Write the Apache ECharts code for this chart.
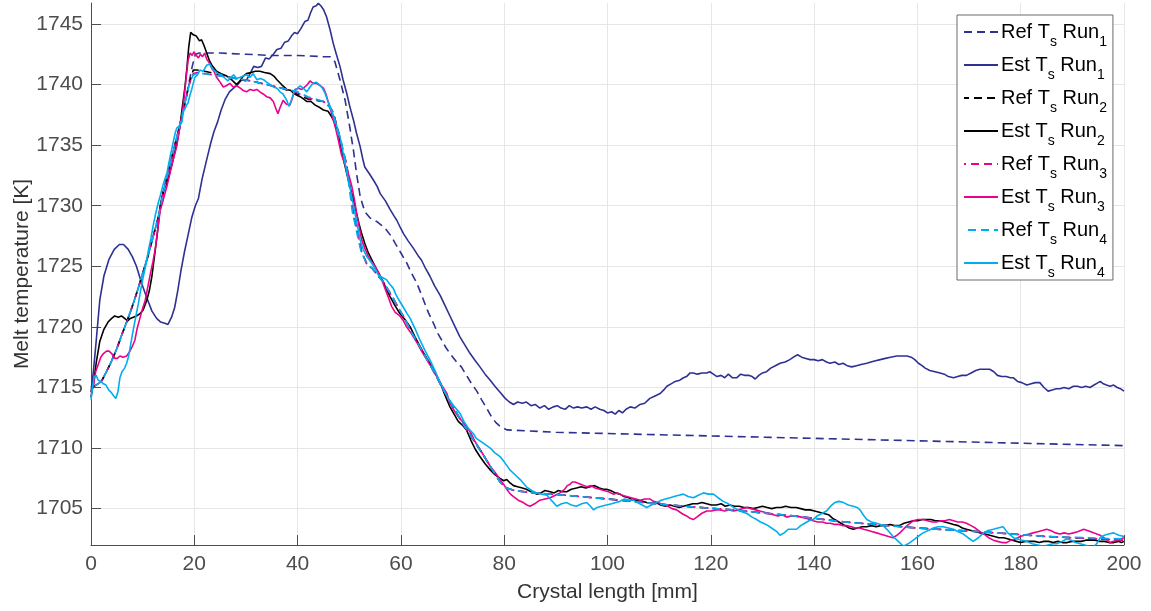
<!DOCTYPE html>
<html>
<head>
<meta charset="utf-8">
<script src="https://cdn.jsdelivr.net/npm/echarts@6/dist/echarts.min.js"></script>
<style>
  html, body { margin: 0; padding: 0; background: #fff; }
  #chart { width: 1151px; height: 611px; }
</style>
</head>
<body>
<div id="chart"></div>
<script>
// Axis ticks
const xTicks = [0, 20, 40, 60, 80, 100, 120, 140, 160, 180, 200];
const yTicks = [1705, 1710, 1715, 1720, 1725, 1730, 1735, 1740, 1745];

// Legend labels (T_s and Run index are set as subscripts)
const seriesNames = [
  'Ref Ts Run1', 'Est Ts Run1',
  'Ref Ts Run2', 'Est Ts Run2',
  'Ref Ts Run3', 'Est Ts Run3',
  'Ref Ts Run4', 'Est Ts Run4'
];

// [crystal length mm, melt temperature K]
const refRun1 = [[0,1715],[1,1715.2],[2,1715.5],[3,1716.3],[4,1717.2],[5,1718.2],[6,1719.4],[7,1720.5],[8,1721.7],[9,1723],[10,1724.4],[11,1725.8],[12,1727.4],[13,1729],[14,1731.1],[15,1732.9],[16,1734.6],[17,1736.3],[18,1738.1],[19,1740.2],[19.6,1741.5],[20.2,1742.5],[21,1742.6],[25,1742.6],[30,1742.5],[35,1742.4],[40,1742.4],[45,1742.3],[46.3,1742.3],[47.2,1741.9],[48.2,1740.4],[49.2,1738.7],[50.1,1736.5],[50.8,1734.6],[51.4,1732.7],[52.1,1730.8],[53,1729.5],[54,1729],[55.3,1728.7],[56.2,1728.4],[57.2,1728],[58.1,1727.5],[58.9,1726.9],[60,1726.1],[61.1,1725.3],[62.1,1724.4],[63.1,1723.6],[64.3,1722.3],[65.3,1721.2],[66.3,1720.3],[67.1,1719.5],[67.9,1718.9],[68.7,1718.3],[69.5,1717.8],[70.8,1717.1],[71.7,1716.7],[72.7,1716],[73.7,1715.3],[74.7,1714.7],[75.6,1714],[76.6,1713.3],[77.5,1712.6],[78.4,1712.1],[79.2,1711.8],[80.5,1711.5],[90,1711.3],[100,1711.2],[110,1711.1],[120,1711],[130,1710.9],[140,1710.8],[150,1710.7],[160,1710.6],[170,1710.5],[180,1710.4],[190,1710.3],[200,1710.2]];

const estRun1 = [[0,1714.6],[0.5,1716.5],[1,1718.8],[1.7,1722.2],[2.5,1724.2],[3.5,1725.6],[4.5,1726.4],[5.5,1726.8],[6.3,1726.8],[7.2,1726.4],[8,1725.8],[8.8,1725],[9.8,1723.6],[10.8,1722.4],[11.8,1721.3],[12.7,1720.7],[13.5,1720.4],[14.3,1720.3],[14.9,1720.2],[15.6,1720.8],[16.2,1721.6],[16.8,1723],[17.4,1724.6],[18.1,1726.2],[18.8,1727.6],[19.5,1729],[20.2,1730],[20.8,1730.6],[21.5,1732.2],[22.4,1733.8],[23.2,1735.2],[23.8,1736.1],[24.5,1736.9],[25.2,1737.9],[26,1738.8],[26.8,1739.4],[27.6,1739.7],[28.4,1740],[29.2,1740.4],[30,1740.3],[30.8,1740.9],[31.5,1741.5],[32.3,1741.4],[33,1741.5],[33.8,1742.2],[34.5,1742.1],[35.3,1742.5],[36,1742.9],[36.8,1743],[37.5,1743.5],[38.2,1743.6],[38.8,1744],[39.4,1744.3],[40,1744.2],[40.6,1744.6],[41.4,1745.2],[42,1745.3],[42.5,1745.9],[43,1746.4],[43.6,1746.5],[44,1746.7],[44.5,1746.5],[45,1746.2],[45.6,1745.6],[46.3,1744.5],[46.9,1743.4],[47.5,1742.5],[48.2,1741.5],[48.8,1740.4],[49.5,1739.3],[50.1,1738.2],[50.8,1737.1],[51.4,1736],[52.1,1734.9],[52.6,1733.9],[53,1733.2],[53.8,1732.7],[54.7,1732.1],[55.4,1731.6],[56,1731],[57,1730.4],[57.9,1729.7],[58.6,1729.2],[59.2,1728.8],[60,1728.1],[60.5,1727.7],[61.4,1727.1],[62.4,1726.5],[63.3,1725.9],[64,1725.5],[64.8,1724.8],[65.6,1724.2],[66.5,1723.4],[67.6,1722.6],[68.5,1721.8],[69.5,1720.9],[70.5,1720],[71.4,1719.2],[72.4,1718.5],[73.4,1717.8],[74.4,1717.2],[75.3,1716.7],[76.3,1716.1],[77.3,1715.6],[78.2,1715.1],[79.2,1714.6],[80.2,1714.1],[81,1713.8],[81.8,1713.6],[82.6,1713.8],[83.5,1713.7],[84.3,1713.8],[85.2,1713.5],[86,1713.6],[86.9,1713.3],[87.8,1713.5],[88.6,1713.2],[89.5,1713.4],[90.3,1713.5],[91,1713.3],[91.8,1713.2],[92.6,1713.5],[93.4,1713.3],[94.2,1713.4],[95,1713.3],[96,1713.4],[96.8,1713.2],[97.6,1713.4],[98.5,1713.2],[99.3,1713.1],[100,1712.9],[100.8,1713],[101.5,1712.8],[102.2,1713.1],[102.9,1712.9],[103.6,1713.2],[104.4,1713.4],[105.3,1713.3],[106.3,1713.6],[107.2,1713.7],[108.2,1714.1],[109.2,1714.3],[110.2,1714.5],[110.9,1714.8],[111.5,1715.1],[112.3,1715.3],[113.1,1715.5],[114,1715.6],[114.7,1715.8],[115.3,1715.9],[116,1716.2],[116.6,1716.2],[117.4,1716.1],[118.3,1716.2],[119.2,1716.2],[119.8,1716.3],[120.5,1716.1],[121.2,1715.9],[122,1716],[122.7,1715.8],[123.4,1716.1],[124.2,1715.8],[125,1715.8],[125.8,1716.1],[126.5,1716],[127.3,1716],[128,1715.9],[128.6,1715.7],[129.3,1716],[130,1716.2],[130.8,1716.3],[131.6,1716.6],[132.5,1716.8],[133.4,1717],[134.4,1717.1],[135.3,1717.3],[136,1717.5],[136.8,1717.7],[137.6,1717.5],[138.4,1717.4],[139.2,1717.3],[140,1717.3],[140.8,1717.2],[141.6,1717.3],[142.4,1717.1],[143.1,1717],[144,1717.1],[144.8,1716.9],[145.6,1717],[146.4,1716.8],[147.3,1716.7],[148.2,1716.8],[149.1,1716.9],[150.2,1717],[151,1717.1],[151.9,1717.2],[152.8,1717.3],[153.8,1717.4],[154.8,1717.5],[156,1717.6],[157,1717.6],[158,1717.6],[158.8,1717.5],[159.5,1717.3],[160.2,1717],[160.9,1716.8],[161.5,1716.6],[162.4,1716.4],[163.4,1716.3],[164.4,1716.2],[165.2,1716.1],[166,1715.9],[167,1715.8],[167.8,1715.9],[168.6,1716],[169.5,1716],[170.4,1716.2],[171.3,1716.4],[172.1,1716.5],[173,1716.5],[174,1716.5],[174.8,1716.3],[175.5,1716],[176.3,1715.9],[177.2,1715.9],[178,1715.8],[178.6,1715.8],[179.4,1715.5],[180.2,1715.4],[181.2,1715.2],[182,1715.3],[182.8,1715.4],[183.7,1715.4],[184.5,1715],[185.3,1714.7],[186.1,1714.8],[186.9,1714.9],[187.6,1714.9],[188.4,1715],[189.3,1714.9],[190.2,1715.1],[191,1715.1],[191.8,1715],[192.6,1715.1],[193.4,1715],[194.2,1715.2],[195,1715.4],[195.4,1715.5],[196,1715.3],[196.6,1715.2],[197.3,1715.1],[198,1715.2],[198.7,1715],[199.3,1714.9],[200,1714.7]];

const refRun2 = [[0,1715],[1,1715.2],[2,1715.5],[3,1716.3],[4,1717.2],[5,1718.2],[6,1719.4],[7,1720.5],[8,1721.7],[9,1723],[10,1724.4],[11,1725.8],[12,1727.4],[13,1729],[14,1731.1],[15,1732.9],[16,1734.6],[17,1736.3],[18,1738.1],[19,1740],[19.8,1741.2],[20.5,1741.2],[22,1741.1],[25,1740.8],[28,1740.5],[31,1740.3],[34,1740],[37,1739.7],[40,1739.2],[42,1738.8],[45,1738.6],[46,1738.3],[46.9,1737.7],[47.9,1736.1],[48.8,1734.5],[49.5,1733.4],[50.1,1731.6],[50.8,1729.3],[51.4,1728.2],[51.8,1727.4],[52.4,1726.2],[53.4,1725.2],[54.5,1724.8],[55.6,1724.2],[56.6,1723.7],[57.6,1723],[58.6,1722.3],[59.6,1721.5],[60.6,1720.8],[62,1719.6],[64,1718.1],[66,1716.6],[68,1715],[70,1713.5],[72,1712],[74,1710.7],[76,1709.4],[78,1708],[79.2,1707.2],[80.5,1706.7],[82,1706.5],[85.6,1706.3],[92,1706.1],[100,1705.8],[112,1705.3],[124,1704.9],[136,1704.4],[146,1703.9],[160,1703.4],[172,1703.1],[185,1702.7],[200,1702.4]];

const estRun2 = [[0,1714.2],[0.5,1715.4],[1,1717],[1.7,1718.8],[2.5,1719.8],[3.3,1720.4],[4,1720.7],[4.6,1720.9],[5.3,1720.8],[5.9,1720.9],[6.5,1720.7],[7.1,1720.5],[7.6,1720.7],[8.2,1720.8],[8.8,1720.9],[9.5,1721.1],[10.1,1721.4],[10.8,1722.2],[11.3,1723],[11.8,1724.2],[12.4,1726.2],[12.9,1727.9],[13.4,1730],[14,1731.2],[14.7,1731.9],[15.3,1732.8],[15.9,1733.8],[16.6,1735.1],[17.2,1736.5],[17.7,1738.2],[18.2,1739.8],[18.6,1741.5],[18.9,1743],[19.3,1744.3],[19.8,1744.1],[20.4,1744],[21,1743.6],[21.4,1743.7],[21.9,1743.2],[22.4,1742.6],[22.9,1742],[23.4,1741.6],[24.3,1741.1],[25.2,1740.9],[26.3,1740.7],[27.2,1740.4],[28.2,1740],[28.8,1740.3],[29.5,1740.7],[30.1,1740.9],[31,1741],[31.8,1741.1],[32.7,1741.1],[33.6,1741],[34.7,1740.9],[35.4,1740.7],[36,1740.4],[36.9,1740],[37.9,1739.6],[38.7,1739.5],[39.5,1739.2],[40.5,1739],[41.2,1738.8],[41.8,1738.6],[42.6,1738.6],[43.4,1738.3],[44.3,1738.1],[45,1737.9],[45.9,1737.8],[46.5,1737.4],[46.9,1737.1],[47.4,1736.6],[47.9,1736],[48.5,1734.6],[49,1733.6],[49.5,1732.7],[50,1731.8],[50.5,1731],[51,1730.2],[51.4,1729.4],[51.9,1728.5],[52.4,1727.7],[53,1726.9],[53.7,1726.1],[54.3,1725.6],[55,1725],[55.5,1724.6],[56,1724.2],[56.6,1723.7],[57.2,1723.1],[57.9,1722.5],[58.8,1721.8],[59.8,1721.1],[60.8,1720.6],[61.8,1720],[62.7,1719.2],[63.7,1718.4],[64.6,1717.7],[65.6,1717],[66.6,1716.2],[67.6,1715.4],[68.5,1714.4],[69.5,1713.4],[70.3,1712.8],[71.1,1712.2],[71.9,1711.9],[72.7,1711.5],[73.6,1710.6],[74.4,1709.9],[75.3,1709.3],[76.3,1708.7],[77.3,1708.2],[78.2,1707.8],[79.2,1707.5],[79.9,1707.3],[80.5,1707.4],[81.2,1707.1],[81.8,1706.9],[82.6,1706.8],[83.5,1706.7],[84.3,1706.6],[85.2,1706.4],[86.3,1706.2],[87.1,1706.3],[87.9,1706.5],[88.9,1706.4],[89.7,1706.3],[90.5,1706.5],[91.3,1706.4],[92.1,1706.4],[93,1706.6],[94,1706.7],[94.9,1706.8],[95.8,1706.7],[96.6,1706.8],[97.5,1706.9],[98.4,1706.7],[99.2,1706.6],[99.8,1706.6],[100.6,1706.5],[101.5,1706.3],[102.4,1706.2],[103.2,1706],[104.1,1705.9],[105,1705.7],[105.9,1705.7],[106.8,1705.6],[107.6,1705.5],[108.5,1705.4],[109.4,1705.5],[110.3,1705.3],[111.2,1705.2],[112.1,1705.3],[113,1705.2],[113.9,1705.1],[114.7,1705.2],[115.6,1705.3],[116.5,1705.4],[117.4,1705.4],[118.3,1705.5],[119.2,1705.4],[120.1,1705.3],[121.1,1705.3],[122,1705.4],[122.8,1705.2],[123.7,1705.3],[124.6,1705.2],[125.5,1705.2],[126.4,1705.1],[127.3,1705.1],[128.2,1705],[129.1,1705.1],[130,1705.2],[130.9,1705.1],[131.8,1705],[132.7,1705.1],[133.6,1705.1],[134.5,1705.2],[135.5,1705.1],[136.5,1705.1],[137.4,1705],[138.3,1704.9],[139.2,1704.9],[140.1,1704.8],[141,1704.7],[141.9,1704.6],[142.8,1704.5],[143.6,1704.2],[144.4,1704],[145.2,1703.8],[146,1703.6],[146.8,1703.4],[147.6,1703.3],[148.4,1703.4],[149.3,1703.5],[150.2,1703.5],[151.1,1703.6],[152,1703.5],[152.9,1703.6],[153.8,1703.6],[154.7,1703.7],[155.6,1703.6],[156.5,1703.6],[157.4,1703.8],[158.3,1703.9],[159.2,1704],[160.1,1704],[161,1704.1],[161.8,1704.1],[162.6,1704.1],[163.5,1704],[164.4,1704],[165.3,1703.9],[166.2,1703.8],[167,1703.7],[167.9,1703.6],[168.7,1703.4],[169.5,1703.3],[170.4,1703.2],[171.3,1703.1],[172.2,1703],[173.1,1702.9],[174,1702.8],[174.9,1702.7],[175.8,1702.6],[176.7,1702.6],[177.6,1702.5],[178.4,1702.4],[179.2,1702.3],[180,1702.2],[180.9,1702.3],[181.8,1702.3],[182.7,1702.3],[183.6,1702.2],[184.5,1702.3],[185.4,1702.3],[186.3,1702.2],[187.2,1702.3],[188.1,1702.2],[189,1702.2],[189.9,1702.3],[190.8,1702.3],[191.7,1702.3],[192.6,1702.4],[193.5,1702.4],[194.4,1702.4],[195.3,1702.3],[196.2,1702.3],[197.1,1702.2],[198,1702.2],[198.9,1702.3],[199.5,1702.2],[200,1702.3]];

const refRun3 = [[0,1715],[1,1715.2],[2,1715.5],[3,1716.3],[4,1717.2],[5,1718.2],[6,1719.4],[7,1720.5],[8,1721.7],[9,1723],[10,1724.4],[11,1725.8],[12,1727.4],[13,1729],[14,1731.1],[15,1732.9],[16,1734.6],[17,1736.3],[18,1738.1],[19,1740],[19.8,1740.9],[20.5,1741],[22,1740.9],[25,1740.7],[28,1740.5],[31,1740.3],[34,1740],[37,1739.7],[40,1739.3],[42,1738.9],[45,1738.6],[46,1738.3],[46.9,1737.7],[47.9,1736.1],[48.8,1734.5],[49.5,1733.4],[50.1,1731.6],[50.8,1729.3],[51.4,1728.2],[51.8,1727.4],[52.4,1726.2],[53.4,1725.2],[54.5,1724.8],[55.6,1724.2],[56.6,1723.7],[57.6,1723],[58.6,1722.3],[59.6,1721.5],[60.6,1720.8],[62,1719.6],[64,1718.1],[66,1716.6],[68,1715],[70,1713.5],[72,1712],[74,1710.7],[76,1709.4],[78,1708],[79.2,1707.2],[80.5,1706.7],[82,1706.5],[85.6,1706.3],[92,1706.1],[100,1705.8],[112,1705.3],[124,1704.9],[136,1704.4],[146,1703.9],[160,1703.4],[172,1703.1],[185,1702.7],[200,1702.4]];

const estRun3 = [[0,1714.6],[0.5,1715.2],[0.9,1716.3],[1.4,1716.9],[1.9,1717.5],[2.4,1717.8],[3,1718],[3.5,1718],[4,1717.8],[4.6,1717.4],[5.1,1717.4],[5.6,1717.6],[6.2,1717.5],[6.9,1717.6],[7.4,1717.9],[7.9,1718.3],[8.5,1718.9],[8.9,1719.8],[9.4,1720.6],[9.9,1721.4],[10.5,1722.2],[11,1723.3],[11.5,1724.4],[12,1725.4],[12.5,1726.6],[12.9,1728],[13.4,1729.6],[14,1730.5],[14.7,1731.6],[15.3,1732.7],[15.9,1733.8],[16.6,1734.9],[17.1,1736.2],[17.6,1737.4],[18,1738.8],[18.4,1740.5],[18.8,1742],[19.2,1742.6],[19.6,1742.4],[19.9,1742.7],[20.4,1742.4],[20.8,1742.2],[21.2,1742.5],[21.6,1742.3],[22,1742.6],[22.4,1742.1],[22.9,1741.8],[23.4,1741.3],[23.8,1741.1],[24.3,1740.6],[25,1740.2],[25.6,1739.8],[26.2,1739.9],[26.9,1740.1],[27.5,1739.8],[28.2,1739.9],[28.9,1739.7],[29.5,1739.5],[30.1,1739.4],[30.8,1739.6],[31.5,1739.5],[32.1,1739.6],[32.7,1739.4],[33.4,1739.2],[34,1739],[34.7,1738.9],[35.3,1738.6],[35.8,1738],[36.2,1737.6],[36.6,1738.1],[37.2,1738.7],[37.8,1738.4],[38.5,1738.3],[39,1738.9],[39.5,1739.6],[40.1,1739.7],[40.8,1739.6],[41.4,1739.8],[41.9,1740],[42.4,1740.3],[43,1740.1],[43.7,1740.1],[44.4,1739.9],[45,1739.7],[45.5,1739.2],[45.9,1738.6],[46.4,1737.9],[46.9,1737.1],[47.4,1736.3],[47.9,1735.4],[48.5,1734.2],[49,1733.6],[49.5,1733],[50,1732.4],[50.5,1731.6],[51,1730.5],[51.4,1729.4],[51.9,1728.3],[52.4,1727.2],[53,1726.5],[53.7,1725.8],[54.3,1725.4],[55,1725],[55.6,1724.5],[56.3,1723.9],[56.9,1723.2],[57.6,1722.4],[58.2,1721.7],[58.9,1721.2],[59.8,1720.9],[60.5,1720.5],[61.1,1720],[62.1,1719.4],[63.1,1718.7],[64,1718],[65,1717.3],[66,1716.6],[67,1715.9],[67.9,1715.2],[68.9,1714.5],[69.5,1713.7],[70.3,1713.1],[71.1,1712.6],[71.9,1712.2],[72.7,1711.8],[73.6,1711.2],[74.4,1710.5],[75.3,1709.9],[76.3,1709.2],[77.3,1708.5],[78.2,1708],[79.2,1707.4],[79.9,1707],[80.5,1706.6],[81.2,1706.2],[81.8,1706],[82.7,1705.7],[83.7,1705.5],[84.4,1705.3],[85,1705.2],[85.9,1705.4],[86.9,1705.7],[87.9,1705.8],[88.9,1705.9],[89.9,1706.1],[90.8,1706.3],[91.7,1706.6],[92.2,1706.9],[92.7,1707],[93.2,1707.2],[93.7,1707.2],[94.3,1707.1],[94.9,1707],[95.5,1706.9],[96,1706.8],[96.8,1706.9],[97.6,1706.7],[98.5,1706.6],[99.3,1706.5],[100.2,1706.4],[101.1,1706.2],[101.9,1706.3],[102.8,1706.1],[103.7,1706],[104.6,1705.9],[105.5,1705.8],[106.3,1705.7],[107.2,1705.8],[108.2,1705.8],[108.9,1705.6],[109.8,1705.5],[110.8,1705.3],[111.7,1705.2],[112.5,1705],[113.4,1704.9],[114.4,1704.6],[115.3,1704.4],[116,1704.2],[116.6,1704.1],[117.3,1704.3],[118.2,1704.6],[119.2,1704.8],[120.1,1704.8],[121,1704.9],[121.8,1704.9],[122.7,1704.8],[123.5,1704.9],[124.4,1704.8],[125.3,1704.9],[126.1,1705],[127,1705.1],[127.8,1705],[128.7,1704.9],[129.5,1704.8],[130.4,1704.7],[131.2,1704.6],[132.1,1704.5],[133,1704.4],[133.8,1704.5],[134.7,1704.3],[135.6,1704.4],[136.6,1704.4],[137.5,1704.3],[138.4,1704.2],[139.2,1704.1],[139.8,1704],[140.7,1703.9],[141.6,1703.9],[142.4,1703.8],[143.1,1703.8],[144,1703.7],[144.8,1703.7],[145.5,1703.6],[146.3,1703.6],[147.2,1703.5],[148,1703.4],[148.8,1703.4],[149.6,1703.3],[150.5,1703.2],[151.3,1703.1],[152.1,1703],[152.8,1702.9],[153.6,1702.8],[154.4,1702.7],[155.3,1702.6],[156,1702.8],[156.6,1703],[157.3,1703.3],[158,1703.6],[158.6,1703.8],[159.2,1704],[160.1,1704.1],[161.1,1704.1],[162,1704],[162.9,1703.9],[163.7,1703.9],[164.5,1704],[165.3,1704],[166.2,1704.1],[167,1704],[167.8,1703.9],[168.7,1703.9],[169.5,1703.8],[170.4,1703.6],[171.2,1703.4],[172.1,1703.1],[172.9,1702.9],[173.8,1702.6],[174.7,1702.4],[175.5,1702.3],[176.4,1702.2],[177.3,1702.2],[178.1,1702.4],[179,1702.5],[179.9,1702.7],[180.7,1702.8],[181.6,1702.9],[182.4,1703],[183.3,1703.1],[184.2,1703.2],[185,1703.3],[185.8,1703.2],[186.7,1703],[187.6,1702.9],[188.4,1703],[189.3,1702.9],[190.2,1703],[191,1703.1],[191.6,1703.2],[192.2,1703.3],[192.9,1703.2],[193.6,1703.1],[194.2,1703],[194.7,1702.9],[195.4,1702.8],[196.1,1702.6],[196.7,1702.4],[197.3,1702.2],[198,1702.3],[198.7,1702.4],[199.3,1702.5],[200,1702.6]];

const refRun4 = [[0,1715],[1,1715.2],[2,1715.5],[3,1716.3],[4,1717.2],[5,1718.2],[6,1719.4],[7,1720.5],[8,1721.7],[9,1723],[10,1724.4],[11,1725.8],[12,1727.4],[13,1729],[14,1731.1],[15,1732.9],[16,1734.6],[17,1736.3],[18,1738.1],[19,1740],[19.8,1740.8],[20.5,1740.9],[22,1740.9],[25,1740.7],[28,1740.5],[31,1740.3],[34,1740],[37,1739.7],[40,1739.4],[42,1739],[45,1738.6],[46,1738.2],[46.7,1737.8],[47.6,1736.3],[48.5,1735.2],[49.3,1733.7],[49.9,1731.8],[50.6,1729.5],[51.2,1728.3],[51.7,1727.3],[52.3,1726.2],[53.4,1725.2],[54.5,1724.8],[55.6,1724.2],[56.6,1723.7],[57.6,1723],[58.6,1722.3],[59.6,1721.5],[60.6,1720.8],[62,1719.6],[64,1718.1],[66,1716.6],[68,1715],[70,1713.5],[72,1712],[74,1710.7],[76,1709.4],[78,1708],[79.2,1707.2],[80.5,1706.7],[82,1706.5],[85.6,1706.3],[92,1706.1],[100,1705.8],[112,1705.3],[124,1704.9],[136,1704.4],[146,1703.9],[160,1703.4],[172,1703.1],[185,1702.7],[200,1702.5]];

const estRun4 = [[0,1714],[0.3,1715],[0.6,1715.9],[1,1716],[1.4,1715.6],[1.9,1715.5],[2.4,1715.3],[2.9,1715.2],[3.4,1714.8],[3.9,1714.6],[4.4,1714.3],[4.8,1714.1],[5.2,1714.6],[5.6,1715.8],[6,1716.3],[6.5,1716.6],[6.9,1717],[7.3,1717.6],[7.7,1718.6],[8.2,1719.8],[8.7,1720.9],[9.2,1722],[9.6,1723],[10.1,1724.1],[10.6,1725.1],[11.1,1726.3],[11.6,1727.3],[12.1,1728.5],[12.6,1729.5],[13,1730.2],[13.4,1730.8],[14,1731.8],[14.7,1732.7],[15.3,1734],[15.9,1735.2],[16.3,1736],[16.6,1736.4],[17.1,1736.6],[17.6,1736.9],[17.9,1737.8],[18.2,1738],[18.5,1738.3],[18.8,1738.5],[19.2,1739.2],[19.5,1739.6],[20.1,1740.6],[20.6,1740.8],[21.1,1741.2],[21.7,1741.1],[22.4,1741.6],[23,1741.7],[23.5,1741.3],[24,1741.1],[24.6,1740.9],[25.3,1740.8],[26,1740.5],[26.5,1740.3],[26.9,1740.5],[27.6,1740.8],[28.2,1740.5],[28.9,1740.6],[29.5,1740.7],[30.1,1740.8],[30.8,1740.6],[31.4,1740.9],[32.1,1740.4],[32.8,1740.5],[33.4,1740.4],[34,1740.2],[34.7,1740],[35.3,1739.8],[36,1739.7],[36.6,1739.4],[37.2,1739.2],[37.9,1738.7],[38.3,1738.2],[38.8,1738.7],[39.3,1739.4],[39.8,1739.6],[40.5,1739.9],[41.1,1739.7],[41.8,1739.4],[42.4,1739.8],[43,1740.1],[43.6,1740.2],[44.2,1740],[44.8,1739.7],[45.3,1739.3],[45.8,1738.7],[46.3,1738.2],[46.8,1737.6],[47.2,1737.1],[47.7,1736.4],[48.2,1735.7],[48.7,1734.6],[49.2,1733.5],[49.6,1732.6],[50.1,1731.6],[50.6,1730.5],[51.1,1729.4],[51.6,1728.3],[52.1,1727.2],[52.7,1726.4],[53.4,1725.8],[54.3,1725.3],[55,1724.8],[55.6,1724.3],[56.3,1724.1],[57.2,1723.9],[57.9,1723.5],[58.5,1723.2],[59,1722.7],[59.5,1722.3],[60.5,1721.6],[61.2,1721.1],[61.8,1720.7],[62.8,1719.8],[63.7,1718.9],[64.6,1718.1],[65.6,1717.3],[66.6,1716.4],[67.6,1715.4],[68.5,1714.6],[69.5,1713.9],[70.4,1713.4],[71.4,1712.9],[72.2,1712.2],[73.1,1711.6],[74,1711.2],[74.6,1710.8],[75.3,1710.6],[76.3,1710.3],[77.3,1710],[78.2,1709.6],[79.2,1709.3],[80.1,1708.8],[81.1,1708.2],[82.1,1707.8],[83.1,1707.4],[84.3,1706.8],[85.3,1706.5],[86.3,1706.3],[87.3,1706.2],[88.3,1706.1],[89.1,1705.7],[90.2,1705.2],[91.1,1705.4],[92.1,1705.5],[93,1705.3],[94,1705.2],[95,1705.4],[96,1705.5],[96.7,1705.2],[97.3,1704.9],[98,1705.1],[98.8,1705.2],[99.8,1705.3],[100.8,1705.4],[101.6,1705.5],[102.4,1705.6],[103.3,1705.8],[104.2,1705.7],[105,1705.7],[105.8,1705.5],[106.7,1705.3],[107.6,1705.1],[108.5,1705.3],[109.5,1705.5],[110.4,1705.7],[111.2,1705.8],[112.1,1705.9],[112.9,1706],[113.8,1706.1],[114.7,1706.2],[115.6,1706],[116.6,1705.9],[117.6,1706.1],[118.6,1706.3],[119.5,1706.2],[120.5,1706.2],[121.4,1705.9],[122.4,1705.6],[123.4,1705.4],[124.4,1705.1],[125.3,1704.9],[126.2,1704.7],[127,1704.6],[128,1704.3],[128.9,1704.1],[129.6,1703.9],[130.2,1703.8],[131.1,1703.6],[132.1,1703.3],[132.8,1703.1],[133.4,1702.8],[134.2,1703],[135,1703.3],[135.8,1703.3],[136.6,1703.3],[137.4,1703.6],[138.2,1703.8],[139,1704],[139.8,1704.1],[140.6,1704.4],[141.5,1704.6],[142.4,1704.8],[143.2,1705.2],[144,1705.5],[144.8,1705.6],[145.7,1705.5],[146.6,1705.3],[147.6,1705.2],[148.3,1705.1],[148.9,1704.9],[149.5,1704.5],[150.2,1704.1],[151.1,1703.9],[152.1,1703.8],[152.8,1703.7],[153.4,1703.6],[154.3,1703.2],[155.3,1702.7],[156.3,1702.3],[157.3,1701.9],[158.2,1702.1],[159.2,1702.4],[160.1,1702.7],[161.1,1703],[162.1,1703.2],[163.1,1703.4],[164,1703.5],[165,1703.5],[166,1703.4],[167,1703.3],[167.9,1703.1],[168.9,1702.9],[169.8,1702.6],[170.8,1702.3],[171.8,1702.6],[172.8,1703],[173.7,1703.2],[174.7,1703.3],[175.6,1703.4],[176.6,1703.5],[177.5,1703],[178.6,1702.6],[179.4,1702.5],[180.3,1702.4],[181.2,1702.3],[182.2,1702.1],[183.3,1702],[184.4,1701.9],[185.3,1702],[186.2,1702.1],[187,1702.1],[188,1702.3],[188.9,1702.5],[189.8,1702.4],[190.6,1702.2],[191.5,1702.1],[192.4,1702],[193.2,1701.9],[194,1701.8],[194.7,1702.1],[195.4,1702.6],[196.2,1702.8],[197,1702.9],[198,1703],[199,1702.8],[200,1702.7]];

const seriesData = [refRun1, estRun1, refRun2, estRun2, refRun3, estRun3, refRun4, estRun4];
const runColors = ['#2e3192', '#000000', '#ec008c', '#00aeef'];

const FONT = '"Liberation Sans", Arial, Helvetica, sans-serif';
const AXIS_COLOR = '#4d4d4d';

const chart = echarts.init(document.getElementById('chart'), null, { renderer: 'canvas' });

const series = seriesData.map((data, i) => {
  const isRef = i % 2 === 0;
  return {
    name: seriesNames[i],
    type: 'line',
    data: data,
    symbol: 'none',
    smooth: false,
    clip: true,
    animation: false,
    lineStyle: {
      color: runColors[Math.floor(i / 2)],
      width: 1.6,
      type: isRef ? [8, 5] : 'solid',
      dashOffset: isRef ? (i / 2) * 3 : 0
    },
    itemStyle: { color: runColors[Math.floor(i / 2)] }
  };
});

chart.setOption({
  backgroundColor: '#ffffff',
  animation: false,
  grid: { left: 91, right: 27, top: 3, bottom: 66, containLabel: false, outerBoundsMode: 'none' },
  legend: {
    orient: 'vertical',
    left: 957,
    top: 15,
    padding: [0, 6, 0, 6],
    itemGap: -1,
    itemWidth: 34,
    itemHeight: 12,
    backgroundColor: '#ffffff',
    borderColor: '#6b6b6b',
    borderWidth: 1,
    itemStyle: { opacity: 0 },
    data: seriesNames,
    formatter: name => name.replace('Ts', 'T{sub|s}').replace(/Run(\d)/, 'Run{sub|$1}'),
    textStyle: {
      fontFamily: FONT,
      fontSize: 20,
      color: '#000000',
      lineHeight: 32,
      padding: [0, 0, 0, -2],
      rich: {
        sub: { fontFamily: FONT, fontSize: 14, color: '#000000', lineHeight: 12, padding: [20, 0, 0, 0] }
      }
    }
  },
  xAxis: {
    type: 'value',
    min: 0,
    max: 200,
    interval: 20,
    name: 'Crystal length [mm]',
    nameLocation: 'middle',
    nameGap: 37,
    nameMoveOverlap: false,
    nameTextStyle: { fontFamily: FONT, fontSize: 21, color: '#333333' },
    axisLine: { show: true, onZero: false, lineStyle: { color: AXIS_COLOR, width: 1 } },
    axisTick: { show: true, inside: true, length: 10, lineStyle: { color: AXIS_COLOR } },
    axisLabel: {
      fontFamily: FONT, fontSize: 21, color: '#4d4d4d', margin: 9
    },
    splitLine: { show: true, lineStyle: { color: '#e6e6e6', width: 1 } }
  },
  yAxis: {
    type: 'value',
    min: 1702,
    max: 1746.73,
    name: 'Melt temperature [K]',
    nameLocation: 'middle',
    nameGap: 58,
    nameMoveOverlap: false,
    nameTextStyle: { fontFamily: FONT, fontSize: 21, color: '#333333' },
    axisLine: { show: true, lineStyle: { color: AXIS_COLOR, width: 1 } },
    axisTick: { show: true, inside: true, length: 10, lineStyle: { color: AXIS_COLOR }, customValues: yTicks },
    axisLabel: {
      fontFamily: FONT, fontSize: 21, color: '#4d4d4d', margin: 8,
      customValues: yTicks,
      formatter: v => String(v)
    },
    splitLine: { show: true, lineStyle: { color: '#e6e6e6', width: 1 } }
  },
  series: series
});
</script>
</body>
</html>
